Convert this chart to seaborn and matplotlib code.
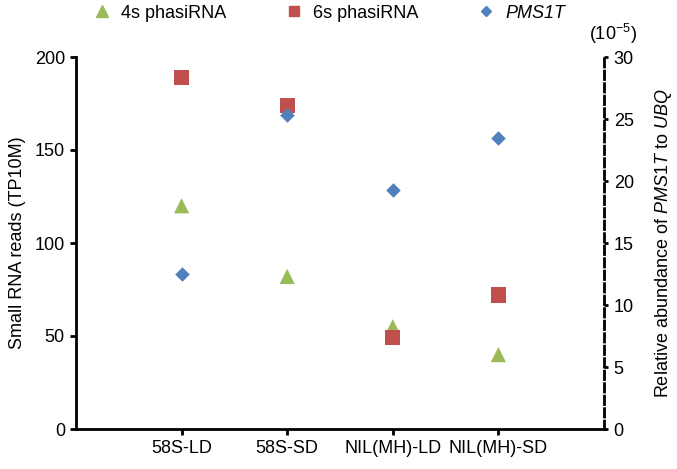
import matplotlib
matplotlib.use("Agg")
import matplotlib.pyplot as plt
import seaborn as sns
import pandas as pd

# ── Data ─────────────────────────────────────────────────────────────────────
samples      = ["58S-LD", "58S-SD", "NIL(MH)-LD", "NIL(MH)-SD"]
phasi_4s     = [120, 82, 55, 40]        # small RNA reads (TP10M)
phasi_6s     = [189, 174, 49, 72]       # small RNA reads (TP10M)
pms1t_expr   = [12.5, 25.3, 19.3, 23.5] # relative abundance to UBQ (x1e-5)
left_ticks   = [0, 50, 100, 150, 200]
right_ticks  = [0, 5, 10, 15, 20, 25, 30]

GREEN, RED, BLUE = "#9BBB59", "#C0504D", "#4F81BD"

sns.set_theme(style="white")
plt.rcParams["font.family"] = ["Liberation Sans", "DejaVu Sans"]
plt.rcParams["mathtext.fontset"] = "custom"
plt.rcParams["mathtext.rm"] = "Liberation Sans"
plt.rcParams["mathtext.it"] = "Liberation Sans:italic"
for key in ["text.color", "axes.labelcolor", "xtick.color", "ytick.color"]:
    plt.rcParams[key] = "black"

reads = pd.DataFrame({
    "sample": samples * 2,
    "reads": phasi_4s + phasi_6s,
    "series": ["4s phasiRNA"] * 4 + ["6s phasiRNA"] * 4,
})
expr = pd.DataFrame({"sample": samples, "expr": pms1t_expr})

fig = plt.figure(figsize=(6.77, 4.69), dpi=100)
ax = fig.add_axes([76 / 677, 1 - 429 / 469, 528 / 677, 372 / 469])
ax2 = ax.twinx()

sns.scatterplot(data=reads, x="sample", y="reads", hue="series", style="series",
                palette={"4s phasiRNA": GREEN, "6s phasiRNA": RED},
                markers={"4s phasiRNA": "^", "6s phasiRNA": "s"},
                s=120, linewidth=0, ax=ax, legend=False, zorder=3)
sns.scatterplot(data=expr, x="sample", y="expr", color=BLUE, marker="D",
                s=55, linewidth=0, ax=ax2, legend=False, zorder=3)

ax.set_xlim(-1, 4)
ax.set_ylim(0, 200)
ax2.set_ylim(0, 30)
ax.set_yticks(left_ticks)
ax2.set_yticks(right_ticks)
ax.set_xticks(range(len(samples)))
ax.set_xticklabels(samples)

# spines
for s in ["top", "right"]:
    ax.spines[s].set_visible(False)
for s in ["top", "left", "bottom"]:
    ax2.spines[s].set_visible(False)
for s in ["left", "bottom"]:
    ax.spines[s].set_linewidth(2)
    ax.spines[s].set_color("black")
ax2.spines["right"].set_linewidth(2)
ax2.spines["right"].set_color("black")
ax2.spines["right"].set_linestyle((0, (3, 1.5)))

ax.tick_params(axis="both", direction="out", length=4, width=2, color="black",
               labelsize=13, pad=4, left=True, bottom=True)
ax2.tick_params(axis="y", direction="out", length=3, width=2, color="black",
                labelsize=13, pad=4, right=True)

ax.set_xlabel("")
ax.set_ylabel("Small RNA reads (TP10M)", fontsize=13, labelpad=6)
ax2.set_ylabel(r"Relative abundance of $\it{PMS1T}$ to $\it{UBQ}$",
               fontsize=13, labelpad=14)

fig.text(613 / 677, 1 - 34 / 469, r"(10$^{\mathregular{-5}}$)", fontsize=13,
         ha="center", va="center")

# legend across the top
handles = [
    plt.Line2D([], [], marker="^", color=GREEN, linestyle="", markersize=8),
    plt.Line2D([], [], marker="s", color=RED, linestyle="", markersize=7.5),
    plt.Line2D([], [], marker="D", color=BLUE, linestyle="", markersize=5.5),
]
leg = fig.legend(handles, ["4s phasiRNA", "6s phasiRNA", "PMS1T"], ncol=3,
                 loc="center", bbox_to_anchor=(329 / 677, 1 - 13 / 469),
                 frameon=False, fontsize=13, handlelength=1.0,
                 handletextpad=0.6, columnspacing=3.2)
leg.get_texts()[2].set_fontstyle("italic")

fig.savefig("out.png", dpi=100)
